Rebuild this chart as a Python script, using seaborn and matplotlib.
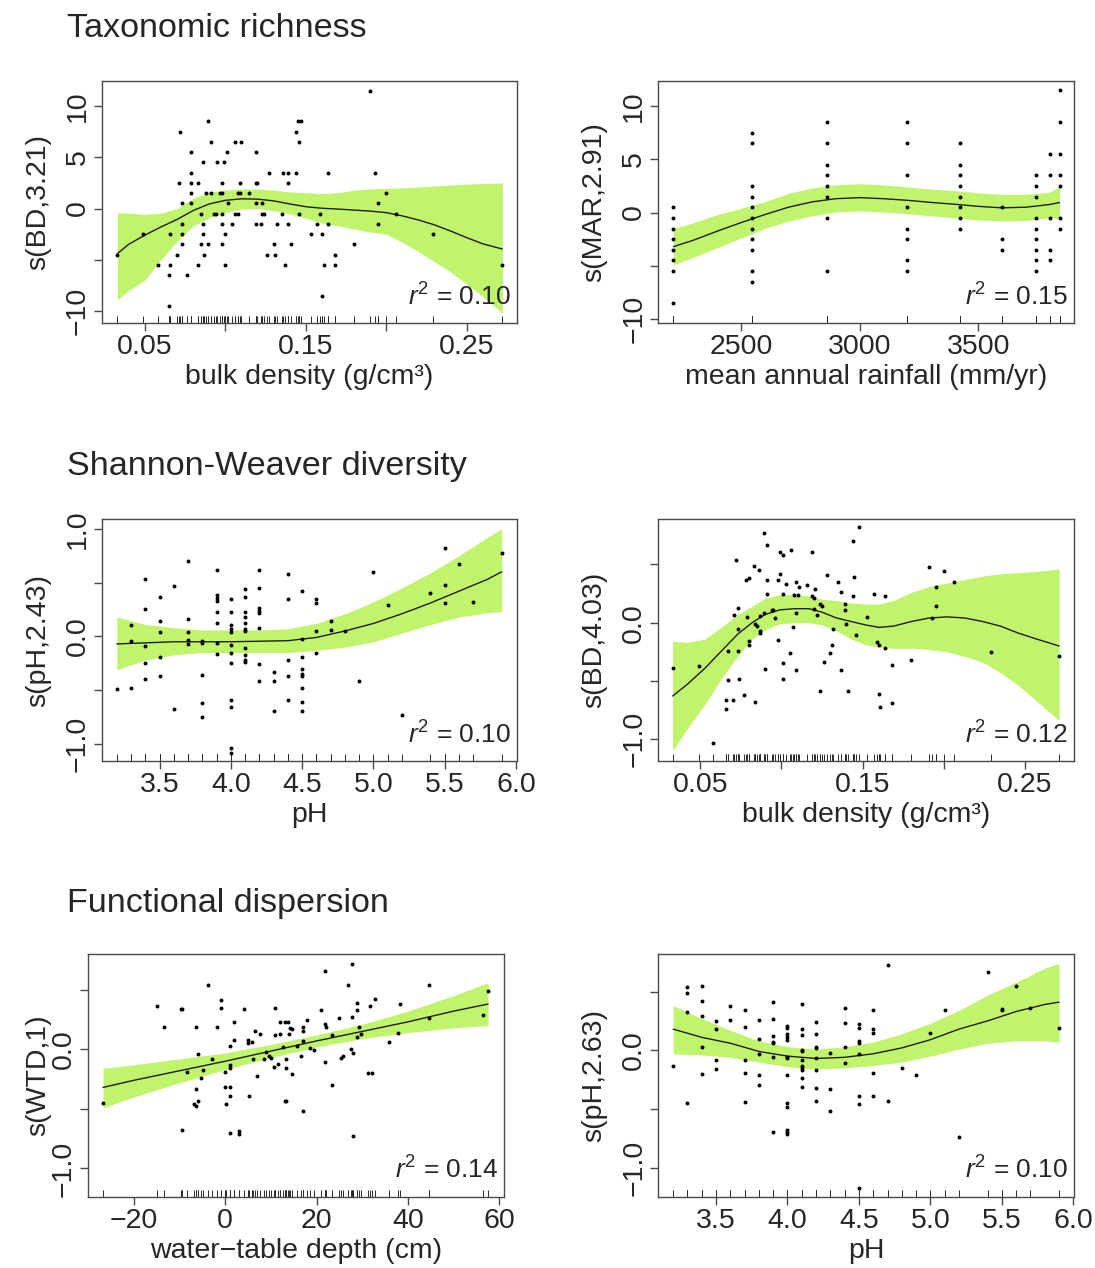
import numpy as np
import matplotlib
matplotlib.use("Agg")
import matplotlib.pyplot as plt
import seaborn as sns

# ------------------------------------------------------------------
# DATA
# ------------------------------------------------------------------
# Panel 1: Taxonomic richness ~ s(BD, 3.21)
tr_bd_x = [0.033, 0.049, 0.058, 0.065, 0.065, 0.066, 0.066, 0.070, 0.071, 0.072,
           0.073, 0.073, 0.073, 0.073, 0.076, 0.079, 0.079, 0.079, 0.079, 0.079,
           0.083, 0.083, 0.085, 0.085, 0.086, 0.086, 0.086, 0.087, 0.088, 0.089,
           0.089, 0.091, 0.091, 0.093, 0.094, 0.095, 0.097, 0.098, 0.098, 0.098,
           0.098, 0.098, 0.099, 0.100, 0.100, 0.101, 0.102, 0.104, 0.106, 0.106,
           0.108, 0.108, 0.109, 0.109, 0.110, 0.115, 0.119, 0.119, 0.119, 0.119,
           0.120, 0.122, 0.123, 0.123, 0.124, 0.126, 0.127, 0.130, 0.131, 0.132,
           0.135, 0.136, 0.137, 0.139, 0.139, 0.139, 0.141, 0.144, 0.144, 0.145,
           0.146, 0.146, 0.147, 0.153, 0.157, 0.159, 0.160, 0.160, 0.161, 0.164,
           0.164, 0.168, 0.168, 0.180, 0.190, 0.193, 0.195, 0.195, 0.200, 0.206,
           0.229, 0.272]
tr_bd_y = [-4.5, -2.5, -5.5, -6.5, -9.5, -2.5, -5.5, -4.5, 2.5, 7.5,
           -1.5, -2.5, 0.5, -3.5, -6.5, 3.5, 2.5, 5.5, 1.5, 0.5,
           2.5, -5.5, -0.5, -3.5, 4.5, -1.5, -2.5, -4.5, 1.5, 8.5,
           -3.5, 6.5, 1.5, -0.5, -0.5, 4.5, 1.5, -0.5, 2.5, -1.5,
           -3.5, 1.5, 4.5, -2.5, -5.5, 5.5, 0.5, -1.5, 6.5, -0.5,
           -0.5, 1.5, 2.5, 1.5, 6.5, 1.5, 5.5, 2.5, 0.5, -1.5,
           2.5, -1.5, 0.5, -0.5, -0.5, -4.5, 3.5, -3.5, -4.5, -1.5,
           -0.5, 3.5, -5.5, 2.5, 3.5, -1.5, -3.5, 7.5, 3.5, 8.5,
           6.5, -0.5, 8.5, -2.5, -1.5, -0.5, -2.5, -8.5, -5.5, 3.5,
           -1.5, -4.5, -5.5, -3.5, 11.5, 3.5, 0.5, -1.5, 1.5, -0.5,
           -2.5, -5.5]
tr_bd_grid = [0.033, 0.04, 0.05, 0.06, 0.07, 0.08, 0.09, 0.10, 0.11, 0.12, 0.13, 0.14, 0.15,
              0.16, 0.17, 0.18, 0.19, 0.20, 0.21, 0.22, 0.23, 0.24, 0.25, 0.26, 0.272]
tr_bd_fit = [-4.4, -3.5, -2.6, -1.8, -1.07, -0.2, 0.45, 0.8, 0.95, 0.92, 0.75, 0.45, 0.18,
             0.03, -0.05, -0.15, -0.25, -0.4, -0.72, -1.12, -1.6, -2.2, -2.85, -3.45, -3.95]
tr_bd_upper = [-0.4, -0.45, -0.55, -0.45, 0.0, 1.0, 1.6, 1.8, 1.9, 1.9, 1.8, 1.62, 1.55,
               1.45, 1.55, 1.8, 1.92, 1.97, 2.02, 2.1, 2.2, 2.3, 2.38, 2.45, 2.5]
tr_bd_lower = [-8.9, -8.0, -7.0, -5.0, -3.2, -1.7, -0.9, -0.4, -0.05, 0.0, -0.2, -0.5, -0.95,
               -1.4, -1.7, -2.0, -2.3, -2.5, -3.3, -4.2, -5.2, -6.2, -7.4, -8.6, -10.2]

# Panel 2: Taxonomic richness ~ s(MAR, 2.91)
tr_mar_levels = [2216, 2548, 2861, 3201, 3421, 3600, 3742, 3801, 3842]
tr_mar_resid = [[0.5, -0.5, -1.5, -2.5, -3.5, -4.5, -5.5, -8.5],
                [7.5, 6.5, 2.5, 1.5, 0.5, -0.5, -1.5, -2.5, -3.5, -5.5, -6.5],
                [8.5, 6.5, 4.5, 3.5, 2.5, 1.5, -0.5, -5.5],
                [8.5, 6.5, 3.5, 0.5, -1.5, -2.5, -4.5, -5.5],
                [6.5, 4.5, 3.5, 2.5, 1.5, 0.5, -0.5, -1.5],
                [0.5, -2.5, -3.5],
                [3.5, 2.5, 1.5, -0.5, -1.5, -2.5, -3.5, -4.5, -5.5],
                [5.5, 3.5, -0.5, -3.5, -4.5],
                [11.5, 8.5, 5.5, 3.5, 2.5, -0.5, -1.5]]
tr_mar_grid = [2216, 2300, 2400, 2500, 2600, 2700, 2800, 2900, 3000, 3100, 3200, 3300,
               3400, 3500, 3600, 3700, 3800, 3842]
tr_mar_fit = [-3.2, -2.6, -1.75, -0.95, -0.2, 0.5, 1.0, 1.3, 1.4, 1.3, 1.15, 0.95,
              0.78, 0.58, 0.44, 0.5, 0.75, 0.94]
tr_mar_upper = [-1.5, -0.95, -0.2, 0.4, 1.0, 1.8, 2.3, 2.6, 2.7, 2.6, 2.4, 2.2,
                2.05, 1.85, 1.7, 1.7, 1.9, 2.45]
tr_mar_lower = [-4.9, -4.2, -3.3, -2.4, -1.5, -0.8, -0.3, 0.05, 0.15, 0.05, -0.1, -0.3,
                -0.5, -0.7, -0.8, -0.75, -0.5, -0.55]

# Panel 3: Shannon-Weaver diversity ~ s(pH, 2.43)
sw_ph_levels = [3.2, 3.3, 3.4, 3.5, 3.6, 3.7, 3.8, 3.9, 4.0, 4.1, 4.2, 4.3, 4.4, 4.5,
                4.6, 4.7, 4.8, 4.9, 5.0, 5.1, 5.2, 5.4, 5.5, 5.6, 5.7, 5.9]
sw_ph_resid = [[-0.49],
               [0.11, -0.04, -0.48],
               [0.53, 0.25, -0.09, -0.25, -0.40],
               [0.37, 0.14, 0.04, -0.19, -0.37],
               [0.47, -0.67],
               [0.70, 0.16, 0.04, -0.03, -0.07],
               [-0.04, -0.06, -0.36, -0.62, -0.75],
               [0.62, 0.38, 0.36, 0.33, 0.23, 0.12, -0.06, -0.16],
               [0.35, 0.23, 0.11, 0.07, 0.04, -0.08, -0.15, -0.25, -0.59, -0.66, -1.04, -1.08],
               [0.44, 0.37, 0.23, 0.18, 0.12, 0.07, 0.05, -0.11, -0.17, -0.22, -0.24],
               [0.62, 0.45, 0.26, 0.24, 0.22, 0.08, -0.26, -0.41],
               [-0.33, -0.41, -0.69],
               [0.58, 0.35, -0.22, -0.37, -0.59],
               [0.42, -0.02, -0.19, -0.30, -0.35, -0.37, -0.48, -0.61, -0.69],
               [0.35, 0.31, 0.05, -0.15],
               [0.14, 0.06],
               [0.05],
               [-0.41],
               [0.60],
               [0.29],
               [-0.73],
               [0.40],
               [0.82, 0.48, 0.31],
               [0.67],
               [0.32],
               [0.77]]
sw_ph_grid = [3.2, 3.4, 3.6, 3.8, 4.0, 4.2, 4.4, 4.6, 4.8, 5.0, 5.2, 5.4, 5.6, 5.8, 5.9]
sw_ph_fit = [-0.07, -0.06, -0.05, -0.05, -0.05, -0.045, -0.04, -0.01, 0.05, 0.12, 0.21,
             0.31, 0.42, 0.53, 0.60]
sw_ph_upper = [0.18, 0.11, 0.08, 0.06, 0.06, 0.06, 0.07, 0.12, 0.21, 0.32, 0.45, 0.59,
               0.75, 0.92, 1.0]
sw_ph_lower = [-0.31, -0.22, -0.17, -0.15, -0.15, -0.15, -0.15, -0.13, -0.10, -0.05,
               0.03, 0.11, 0.18, 0.22, 0.23]

# Panel 4: Shannon-Weaver diversity ~ s(BD, 4.03)
sw_bd_x = [0.033, 0.049, 0.058, 0.066, 0.066, 0.067, 0.067, 0.070, 0.071, 0.072,
           0.073, 0.073, 0.073, 0.074, 0.077, 0.078, 0.080, 0.079, 0.080, 0.080,
           0.083, 0.084, 0.084, 0.085, 0.086, 0.087, 0.087, 0.087, 0.089, 0.089,
           0.090, 0.091, 0.091, 0.091, 0.094, 0.095, 0.096, 0.098, 0.098, 0.099,
           0.099, 0.101, 0.101, 0.101, 0.101, 0.103, 0.105, 0.106, 0.107, 0.108,
           0.109, 0.109, 0.109, 0.110, 0.111, 0.116, 0.119, 0.119, 0.120, 0.120,
           0.121, 0.122, 0.124, 0.124, 0.125, 0.126, 0.128, 0.130, 0.131, 0.132,
           0.135, 0.137, 0.137, 0.139, 0.139, 0.140, 0.141, 0.144, 0.144, 0.145,
           0.146, 0.148, 0.153, 0.157, 0.159, 0.160, 0.160, 0.161, 0.164, 0.164,
           0.168, 0.168, 0.180, 0.191, 0.193, 0.195, 0.195, 0.200, 0.206, 0.229,
           0.271]
sw_bd_y = [-0.39, -0.37, -1.03, -0.74, -0.66, -0.49, -0.24, -0.66, 0.07, 0.54,
           0.13, -0.05, -0.24, -0.48, -0.62, 0.37, 0.38, 0.05, -0.16, -0.19,
           0.49, -0.68, -0.01, -0.03, 0.45, 0.06, -0.07, -0.09, 0.08, 0.77,
           -0.40, 0.67, 0.37, 0.25, 0.11, 0.11, 0.04, -0.15, 0.37, 0.42,
           0.61, 0.25, -0.35, -0.48, 0.58, 0.33, -0.26, 0.62, -0.04, 0.24,
           0.08, -0.41, 0.35, 0.24, 0.31, 0.32, 0.61, 0.23, 0.21, 0.12,
           0.29, 0.07, -0.59, 0.16, 0.14, -0.34, 0.41, -0.26, -0.19, -0.05,
           0.35, 0.26, -0.41, 0.16, 0.11, -0.01, -0.59, 0.70, 0.23, 0.39,
           -0.11, 0.82, 0.05, 0.25, -0.17, -0.19, -0.61, -0.72, 0.23, -0.22,
           -0.36, -0.69, -0.32, 0.48, 0.04, 0.31, 0.14, 0.44, 0.35, -0.25,
           -0.29]
sw_bd_grid = [0.033, 0.042, 0.053, 0.064, 0.073, 0.082, 0.090, 0.099, 0.108, 0.117, 0.125,
              0.134, 0.143, 0.152, 0.160, 0.169, 0.180, 0.191, 0.202, 0.213, 0.224, 0.235,
              0.246, 0.257, 0.271]
sw_bd_fit = [-0.63, -0.53, -0.39, -0.23, -0.10, 0.00, 0.07, 0.11, 0.12, 0.12, 0.09, 0.04,
             0.01, -0.02, -0.04, -0.03, 0.01, 0.04, 0.05, 0.04, 0.01, -0.03, -0.09, -0.14,
             -0.20]
sw_bd_upper = [-0.16, -0.17, -0.14, -0.03, 0.07, 0.14, 0.21, 0.24, 0.24, 0.23, 0.20, 0.19,
               0.17, 0.16, 0.16, 0.19, 0.26, 0.31, 0.34, 0.37, 0.40, 0.42, 0.43, 0.44, 0.46]
sw_bd_lower = [-1.10, -0.91, -0.70, -0.46, -0.29, -0.14, -0.06, -0.01, 0.00, 0.00, -0.02,
               -0.07, -0.14, -0.19, -0.21, -0.22, -0.22, -0.23, -0.25, -0.29, -0.34, -0.43,
               -0.54, -0.67, -0.84]

# Panel 5: Functional dispersion ~ s(WTD, 1)
fd_wtd_x = [-26.8, -14.9, -13.4, -9.8, -9.4, -9.4, -8.5, -6.4, -6.4, -6.9,
            -6.4, -5.9, -5.9, -5.4, -4.9, -3.9, -2.9, -1.9, -0.9, -0.9,
            0.0, 0.0, 0.2, 1.0, 1.0, 1.1, 1.1, 1.1, 1.1, 2.0,
            2.0, 3.0, 3.0, 4.1, 4.9, 4.9, 5.1, 5.9, 6.0, 6.6,
            7.0, 7.5, 8.5, 8.9, 9.6, 10.0, 10.6, 10.9, 10.9, 11.5,
            11.9, 12.1, 12.6, 13.1, 13.1, 13.2, 13.4, 13.4, 13.8, 14.0,
            14.1, 14.6, 14.6, 15.8, 16.5, 17.0, 17.0, 17.0, 17.0, 18.0,
            18.5, 19.5, 21.0, 21.9, 21.9, 22.1, 21.9, 23.4, 23.4, 24.9,
            25.3, 25.7, 26.9, 27.5, 27.8, 27.8, 27.9, 27.9, 28.8, 28.8,
            28.8, 29.4, 29.8, 31.3, 31.8, 32.2, 32.8, 35.8, 37.9, 38.3,
            44.7, 44.7, 56.6, 57.6]
fd_wtd_y = [-0.45, 0.36, 0.19, 0.34, 0.34, -0.68, -0.19, 0.19, -0.33, -0.46,
            -0.48, -0.04, -0.43, -0.24, -0.17, 0.54, -0.08, 0.19, 0.41, 0.35,
            -0.19, -0.32, -0.46, -0.32, 0.03, -0.13, -0.16, -0.39, -0.70, 0.23,
            0.08, -0.69, -0.71, 0.34, 0.08, 0.05, -0.39, 0.06, -0.08, 0.15,
            -0.22, 0.13, -0.08, -0.02, -0.06, -0.07, -0.15, 0.35, 0.12, -0.12,
            0.23, 0.13, 0.02, 0.23, -0.43, -0.08, -0.43, -0.16, 0.23, 0.13,
            0.18, 0.17, -0.21, 0.03, -0.06, 0.19, 0.15, 0.07, -0.52, 0.25,
            0.01, -0.01, 0.33, 0.66, 0.21, 0.19, -0.11, 0.12, -0.30, 0.26,
            -0.07, -0.06, 0.54, 0.00, 0.72, 0.27, -0.03, -0.73, 0.39, 0.33,
            0.10, 0.19, 0.13, -0.20, 0.36, -0.20, 0.42, 0.06, 0.14, 0.38,
            0.54, 0.26, 0.29, 0.49]
fd_wtd_grid = [-26.8, -20, -10, 0, 10, 20, 30, 40, 50, 57.6]
fd_wtd_fit = [-0.32, -0.26, -0.18, -0.10, -0.015, 0.07, 0.15, 0.23, 0.32, 0.38]
fd_wtd_upper = [-0.16, -0.13, -0.08, -0.03, 0.04, 0.12, 0.21, 0.32, 0.45, 0.56]
fd_wtd_lower = [-0.49, -0.40, -0.28, -0.17, -0.07, 0.02, 0.09, 0.14, 0.18, 0.20]

# Panel 6: Functional dispersion ~ s(pH, 2.63)
fd_ph_levels = [3.2, 3.3, 3.4, 3.5, 3.6, 3.7, 3.8, 3.9, 4.0, 4.1, 4.2, 4.3, 4.4, 4.5,
                4.6, 4.7, 4.8, 4.9, 5.0, 5.1, 5.2, 5.4, 5.5, 5.6, 5.7, 5.9]
fd_ph_resid = [[-0.13],
               [0.54, 0.49, 0.33, -0.45],
               [0.55, 0.42, 0.29, 0.03, -0.20],
               [0.25, 0.18, -0.08, -0.16],
               [0.38, 0.26],
               [0.34, 0.20, -0.08, -0.19, -0.44],
               [0.26, 0.10, -0.03, -0.21, -0.30],
               [0.41, 0.27, 0.12, 0.07, 0.06, -0.06, -0.70],
               [0.21, 0.19, 0.14, 0.11, 0.09, -0.06, -0.07, -0.21, -0.45, -0.48, -0.68, -0.70, -0.71],
               [0.39, 0.18, 0.13, 0.00, -0.01, -0.08, -0.13, -0.15, -0.17, -0.24, -0.31],
               [0.24, 0.14, 0.03, 0.02, -0.07, -0.17, -0.32, -0.43],
               [-0.02, -0.33, -0.52],
               [0.36, 0.23, 0.03, -0.11],
               [0.22, 0.19, 0.08, 0.06, -0.03, -0.39, -0.46, -1.17],
               [0.34, 0.18, 0.15, -0.19, -0.39],
               [0.73, -0.43],
               [-0.15],
               [-0.21],
               [0.15],
               [0.34],
               [-0.74],
               [0.67],
               [0.35, 0.34],
               [0.55],
               [0.36],
               [0.19]]
fd_ph_grid = [3.2, 3.4, 3.6, 3.8, 4.0, 4.2, 4.4, 4.6, 4.8, 5.0, 5.2, 5.4, 5.6, 5.8, 5.9]
fd_ph_fit = [0.18, 0.11, 0.06, -0.01, -0.05, -0.07, -0.06, -0.03, 0.02, 0.09, 0.18, 0.25,
             0.33, 0.39, 0.41]
fd_ph_upper = [0.38, 0.27, 0.17, 0.08, 0.03, 0.01, 0.03, 0.07, 0.14, 0.23, 0.34, 0.47,
               0.58, 0.70, 0.74]
fd_ph_lower = [-0.03, -0.04, -0.06, -0.10, -0.14, -0.16, -0.15, -0.13, -0.10, -0.05, 0.01,
               0.06, 0.08, 0.08, 0.07]

r2_labels = ["0.10", "0.15", "0.10", "0.12", "0.14", "0.10"]
titles = ["Taxonomic richness", "Shannon-Weaver diversity", "Functional dispersion"]


def expand(levels, groups):
    xs, ys = [], []
    for lv, grp in zip(levels, groups):
        xs.extend([lv] * len(grp))
        ys.extend(grp)
    return xs, ys


tr_mar_x, tr_mar_y = expand(tr_mar_levels, tr_mar_resid)
sw_ph_x, sw_ph_y = expand(sw_ph_levels, sw_ph_resid)
fd_ph_x, fd_ph_y = expand(fd_ph_levels, fd_ph_resid)

# ------------------------------------------------------------------
# STYLE
# ------------------------------------------------------------------
sns.set_style("white")
plt.rcParams["font.family"] = ["Liberation Sans", "DejaVu Sans"]
plt.rcParams["mathtext.fontset"] = "custom"
plt.rcParams["mathtext.rm"] = "Liberation Sans"
plt.rcParams["mathtext.it"] = "Liberation Sans:italic"
plt.rcParams["mathtext.bf"] = "Liberation Sans:bold"

W, H = 1095, 1268
fig = plt.figure(figsize=(W / 100, H / 100), dpi=100)
fig.patch.set_facecolor("white")

BAND = "#C0F46C"
FRAME = "#4a4a4a"
FS = 20.5


def make_axes(left, top, right, bottom):
    ax = fig.add_axes([left / W, 1 - bottom / H, (right - left) / W, (bottom - top) / H])
    return ax, right - left, bottom - top


def draw_panel(box, x, y, grid, fit, lo, hi, xlim, ylim, xticks, xticklabels,
               yticks, yticklabels, xlabel, ylabel, r2, ylab_off):
    ax, wpx, hpx = make_axes(*box)
    ax.fill_between(grid, lo, hi, color=BAND, linewidth=0, zorder=1)
    sns.lineplot(x=grid, y=fit, ax=ax, color="#1e1e1e", linewidth=1.0, zorder=3)
    sns.scatterplot(x=x, y=y, ax=ax, color="black", s=8, linewidth=0, zorder=4)
    sns.rugplot(x=x, ax=ax, height=0.03, color="#2a2a2a", linewidth=0.7, zorder=2)
    ax.set_xlim(*xlim)
    ax.set_ylim(*ylim)
    ax.set_xticks(xticks, labels=xticklabels)
    ax.set_yticks(yticks, labels=yticklabels, rotation=90, va="center")
    ax.tick_params(axis="both", direction="out", length=6, width=1, color=FRAME,
                   labelsize=FS, bottom=True, left=True, top=False, right=False)
    ax.tick_params(axis="x", pad=2)
    ax.tick_params(axis="y", pad=2)
    for s in ax.spines.values():
        s.set_color(FRAME)
        s.set_linewidth(1.0)
        s.set_visible(True)
    ax.set_xlabel(xlabel, fontsize=FS)
    ax.xaxis.set_label_coords(0.5, -61 / hpx)
    ax.xaxis.label.set_va("baseline")
    ax.set_ylabel(ylabel, fontsize=FS)
    ax.yaxis.set_label_coords(-ylab_off / wpx, 0.5)
    ax.yaxis.label.set_va("center")
    ax.text(0.986, 0.11, r"$r^2$ = " + r2, transform=ax.transAxes, ha="right",
            va="center", fontsize=19)
    ax.grid(False)
    return ax


bd_ticks = [0.05, 0.10, 0.15, 0.20, 0.25]
bd_labels = ["0.05", "", "0.15", "", "0.25"]
ph_ticks = [3.5, 4.0, 4.5, 5.0, 5.5, 6.0]
ph_labels = ["3.5", "4.0", "4.5", "5.0", "5.5", "6.0"]
tr_yticks = [-10, -5, 0, 5, 10]
tr_ylabels = ["\u221210", "", "0", "5", "10"]
d_yticks = [-1.0, -0.5, 0.0, 0.5]
d_ylabels = ["\u22121.0", "", "0.0", ""]
bd_xlabel = "bulk density (g/cm\u00b3)"

# Row 1
draw_panel((101.7, 81, 516.7, 323.3), tr_bd_x, tr_bd_y, tr_bd_grid, tr_bd_fit,
           tr_bd_lower, tr_bd_upper, (0.0233, 0.2809), (-11.2, 12.45),
           bd_ticks, bd_labels, tr_yticks, tr_ylabels,
           bd_xlabel, "s(BD,3.21)", r2_labels[0], 63.7)
draw_panel((658.3, 81, 1074, 323.3), tr_mar_x, tr_mar_y, tr_mar_grid, tr_mar_fit,
           tr_mar_lower, tr_mar_upper, (2152, 3903), (-10.4, 12.35),
           [2500, 3000, 3500], ["2500", "3000", "3500"], tr_yticks, tr_ylabels,
           "mean annual rainfall (mm/yr)", "s(MAR,2.91)", r2_labels[1], 63.7)
# Row 2
draw_panel((101.7, 519, 516.7, 761.3), sw_ph_x, sw_ph_y, sw_ph_grid, sw_ph_fit,
           sw_ph_lower, sw_ph_upper, (3.094, 6.005), (-1.16, 1.09),
           ph_ticks, ph_labels, [-1.0, -0.5, 0.0, 0.5, 1.0],
           ["\u22121.0", "", "0.0", "", "1.0"],
           "pH", "s(pH,2.43)", r2_labels[2], 63.7)
draw_panel((658.3, 519, 1074, 761.3), sw_bd_x, sw_bd_y, sw_bd_grid, sw_bd_fit,
           sw_bd_lower, sw_bd_upper, (0.0242, 0.2802), (-1.19, 0.89),
           bd_ticks, bd_labels, d_yticks, d_ylabels,
           bd_xlabel, "s(BD,4.03)", r2_labels[3], 63.7)
# Row 3
draw_panel((88, 954, 504, 1197), fd_wtd_x, fd_wtd_y, fd_wtd_grid, fd_wtd_fit,
           fd_wtd_lower, fd_wtd_upper, (-30.1, 61.1), (-1.24, 0.80),
           [-20, 0, 20, 40, 60], ["\u221220", "0", "20", "40", "60"], d_yticks, d_ylabels,
           "water\u2212table depth (cm)", "s(WTD,1)", r2_labels[4], 50)
draw_panel((658.3, 954, 1074, 1197), fd_ph_x, fd_ph_y, fd_ph_grid, fd_ph_fit,
           fd_ph_lower, fd_ph_upper, (3.096, 6.005), (-1.25, 0.82),
           ph_ticks, ph_labels, d_yticks, d_ylabels,
           "pH", "s(pH,2.63)", r2_labels[5], 63.7)

for title, base in zip(titles, [37, 475, 912]):
    fig.text(67 / W, 1 - base / H, title, fontsize=24.6, ha="left", va="baseline")

fig.savefig("out.png", dpi=100, facecolor="white")
